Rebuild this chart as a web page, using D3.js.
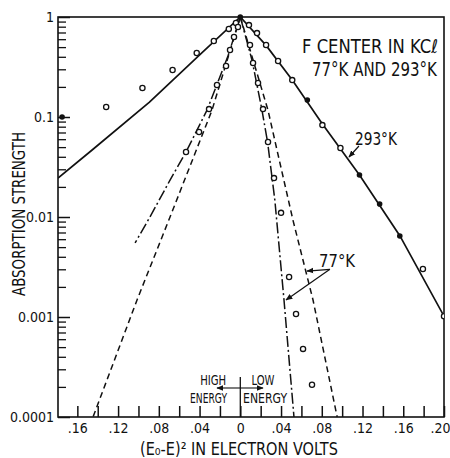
<!DOCTYPE html>
<html><head><meta charset="utf-8">
<script src="https://cdn.jsdelivr.net/npm/d3@7"></script>
<style>body{margin:0;background:#fff}text{font-family:"Liberation Sans Narrow","DejaVu Sans Condensed","Liberation Sans",Arial,sans-serif;fill:#111}</style>
</head><body>
<script>
// ---------- DATA (x = (E0-E)^2 in eV, signed: left = high energy; y = absorption strength) ----------
const xMajorTicks = [-0.16,-0.12,-0.08,-0.04,0,0.04,0.08,0.12,0.16,0.20];
const xTickLabels = [".16",".12",".08",".04","0",".04",".08",".12",".16",".20"];
const xMinorTicks = [-0.14,-0.10,-0.06,-0.02,0.02,0.06,0.10,0.14,0.18];
const yMajorTicks = [1,0.1,0.01,0.001,0.0001];
const yTickLabels = ["1","0.1","0.01","0.001","0.0001"];

// 293 K fitted curve (solid)
const fit293 = [[-0.179,0.0245],[-0.1455,0.0468],[-0.0892,0.141],[-0.0399,0.417],[0,1],
  [0.0253,0.52],[0.051,0.234],[0.0806,0.085],[0.117,0.0263],[0.1566,0.0065],[0.2,0.00102]];
// 293 K measured points
const pts293Open = [[-0.1317,0.126],[-0.0961,0.195],[-0.0665,0.295],[-0.0428,0.437],[-0.026,0.575],
  [-0.0113,0.76],[-0.0043,0.87],[0.0085,0.83],[0.0164,0.69],[0.0253,0.525],[0.0371,0.363],
  [0.051,0.234],[0.0806,0.083],[0.0983,0.049],[0.1793,0.00302],[0.2,0.00102]];
const pts293Filled = [[0,1],[-0.175,0.1],[0.0658,0.148],[0.117,0.0263],[0.1368,0.0135],[0.1566,0.00646]];

// 77 K curves
const dashDotLeft = [[0,1],[-0.0121,0.407],[-0.0327,0.117],[-0.0533,0.0447],[-0.069,0.0234],[-0.0887,0.01],[-0.1033,0.0055]];
const dashDotRight = [[0,1],[0.0115,0.37],[0.0209,0.123],[0.0268,0.056],[0.0339,0.0148],[0.0429,0.00148],[0.0527,0.0001]];
const dashedLeft = [[0,1],[-0.0278,0.117],[-0.069,0.01],[-0.1014,0.00148],[-0.1446,0.0001]];
const dashedRight = [[0,1],[0.0272,0.117],[0.036,0.0468],[0.0517,0.0093],[0.0714,0.00148],[0.0951,0.0001]];
// 77 K measured points
const pts77 = [[-0.0023,0.794],[-0.0062,0.631],[-0.0101,0.468],[-0.014,0.324],[-0.0229,0.209],
  [-0.0307,0.12],[-0.0405,0.0708],[-0.0533,0.0447],
  [0.0095,0.525],[0.0125,0.347],[0.0174,0.219],[0.0223,0.12],[0.0272,0.0562],[0.0331,0.0245],
  [0.04,0.011],[0.0479,0.00251],[0.0547,0.00107],[0.0616,0.00048],[0.0704,0.00021]];

// ---------- CHART ----------
const W=450,H=458;
const L=58,R=444,T=17,B=417;
const x=d3.scaleLinear().domain([-0.179,0.20]).range([L,R]);
const y=d3.scaleLog().domain([1e-4,1]).range([B,T]);

const svg=d3.select("body").append("svg").attr("width",W).attr("height",H);
const defs=svg.append("defs");
defs.append("clipPath").attr("id","clip").append("rect").attr("x",L).attr("y",T).attr("width",R-L).attr("height",B-T);
defs.append("marker").attr("id","arr").attr("viewBox","0 0 10 10").attr("refX",9).attr("refY",5)
  .attr("markerWidth",7).attr("markerHeight",7).attr("markerUnits","userSpaceOnUse").attr("orient","auto")
  .append("path").attr("d","M0,1 L10,5 L0,9 Z").attr("fill","#111");

// helper: text squeezed horizontally to a given width (anchor: start/middle/end), optional rotation
function fitText(parent, str, px, py, size, width, anchor="start", rot=0){
  const g=parent.append("g");
  const t=g.append("text").attr("font-size",size).attr("text-anchor",anchor).text(str);
  const nat=t.node().getComputedTextLength();
  const s=width/nat;
  g.attr("transform",`translate(${px},${py}) rotate(${rot}) scale(${s},1)`);
  return t;
}

// frame
svg.append("rect").attr("x",L).attr("y",T).attr("width",R-L).attr("height",B-T)
  .attr("fill","none").attr("stroke","#111").attr("stroke-width",1.6);

// x axis
const xAxis=d3.axisBottom(x).tickValues(xMajorTicks).tickSize(-11).tickPadding(6)
  .tickFormat((d,i)=>xTickLabels[i]);
const gx=svg.append("g").attr("transform",`translate(0,${B})`).call(xAxis);
gx.select(".domain").remove();
gx.selectAll(".tick line").attr("stroke","#111").attr("stroke-width",1.5);
gx.selectAll(".tick text").attr("font-size",14).attr("fill","#111");
gx.selectAll(".tick text").filter((d,i)=>i===xMajorTicks.length-1).attr("text-anchor","end").attr("x",6);
const gxm=svg.append("g").attr("transform",`translate(0,${B})`)
  .call(d3.axisBottom(x).tickValues(xMinorTicks).tickSize(-11).tickFormat(""));
gxm.select(".domain").remove();
gxm.selectAll(".tick line").attr("stroke","#111").attr("stroke-width",1.5);

// y axis
const yMinor=[];
for(let e=-4;e<0;e++) for(let k=2;k<=9;k++) yMinor.push(k*Math.pow(10,e));
const gy=svg.append("g").attr("transform",`translate(${L},0)`)
  .call(d3.axisLeft(y).tickValues(yMajorTicks).tickSize(-12).tickPadding(4).tickFormat((d,i)=>yTickLabels[i]));
gy.select(".domain").remove();
gy.selectAll(".tick line").attr("stroke","#111").attr("stroke-width",1.5);
gy.selectAll(".tick text").attr("font-size",14).attr("fill","#111");
const gym=svg.append("g").attr("transform",`translate(${L},0)`)
  .call(d3.axisLeft(y).tickValues(yMinor).tickSize(-8).tickFormat(""));
gym.select(".domain").remove();
gym.selectAll(".tick line").attr("stroke","#111").attr("stroke-width",1.3);

// curves
const line=d3.line().x(d=>x(d[0])).y(d=>y(d[1]));
const plot=svg.append("g").attr("clip-path","url(#clip)");
plot.append("path").attr("d",line(fit293)).attr("fill","none").attr("stroke","#111").attr("stroke-width",1.7);
[dashDotLeft,dashDotRight].forEach(s=>plot.append("path").attr("d",line(s)).attr("fill","none")
  .attr("stroke","#111").attr("stroke-width",1.5).attr("stroke-dasharray","11,3,2,3"));
[dashedLeft,dashedRight].forEach(s=>plot.append("path").attr("d",line(s)).attr("fill","none")
  .attr("stroke","#111").attr("stroke-width",1.5).attr("stroke-dasharray","6,4"));

// points
plot.selectAll(".o293").data(pts293Open).join("circle").attr("cx",d=>x(d[0])).attr("cy",d=>y(d[1]))
  .attr("r",2.6).attr("fill","#fff").attr("stroke","#111").attr("stroke-width",1.3);
plot.selectAll(".o77").data(pts77).join("circle").attr("class","o77").attr("cx",d=>x(d[0])).attr("cy",d=>y(d[1]))
  .attr("r",2.6).attr("fill","#fff").attr("stroke","#111").attr("stroke-width",1.3);
svg.selectAll(".f293").data(pts293Filled).join("circle").attr("class","f293").attr("cx",d=>x(d[0])).attr("cy",d=>y(d[1]))
  .attr("r",2.8).attr("fill","#111");

// annotations
const ann=svg.append("g");
fitText(ann,"F CENTER IN KCℓ",302,53,19,136);
fitText(ann,"77°K AND 293°K",312,76,19,125);

fitText(ann,"293°K",x(0.1126),y(0.0525),17,42);
ann.append("line").attr("x1",x(0.1165)).attr("y1",y(0.0513)).attr("x2",x(0.1067)).attr("y2",y(0.0398))
  .attr("stroke","#111").attr("stroke-width",1.2).attr("marker-end","url(#arr)");

fitText(ann,"77°K",x(0.0773),y(0.00316),18,36);
ann.append("line").attr("x1",x(0.088)).attr("y1",y(0.003)).attr("x2",x(0.0655)).attr("y2",y(0.00288))
  .attr("stroke","#111").attr("stroke-width",1.2).attr("marker-end","url(#arr)");
ann.append("line").attr("x1",x(0.088)).attr("y1",y(0.003)).attr("x2",x(0.0449)).attr("y2",y(0.00148))
  .attr("stroke","#111").attr("stroke-width",1.2).attr("marker-end","url(#arr)");

// high / low energy
ann.append("line").attr("x1",x(0)).attr("x2",x(0)).attr("y1",y(0.000251)).attr("y2",B)
  .attr("stroke","#111").attr("stroke-width",1.3);
ann.append("line").attr("x1",x(0)).attr("x2",x(-0.0229)).attr("y1",y(0.000195)).attr("y2",y(0.000195))
  .attr("stroke","#111").attr("stroke-width",1.1).attr("marker-end","url(#arr)");
ann.append("line").attr("x1",x(0)).attr("x2",x(0.0223)).attr("y1",y(0.000195)).attr("y2",y(0.000195))
  .attr("stroke","#111").attr("stroke-width",1.1).attr("marker-end","url(#arr)");
[["HIGH",-0.0267,0.000209,26],["LOW",0.0223,0.000209,23],["ENERGY",-0.0312,0.000138,37],["ENERGY",0.0243,0.000138,44]]
  .forEach(([t,a,b,w])=>fitText(ann,t,x(a),y(b),14,w,"middle"));

// axis titles
fitText(svg,"ABSORPTION STRENGTH",25,214,17,164,"middle",-90);
fitText(svg,"(E₀-E)² IN ELECTRON VOLTS",140,455,17,198);
</script>
</body></html>
